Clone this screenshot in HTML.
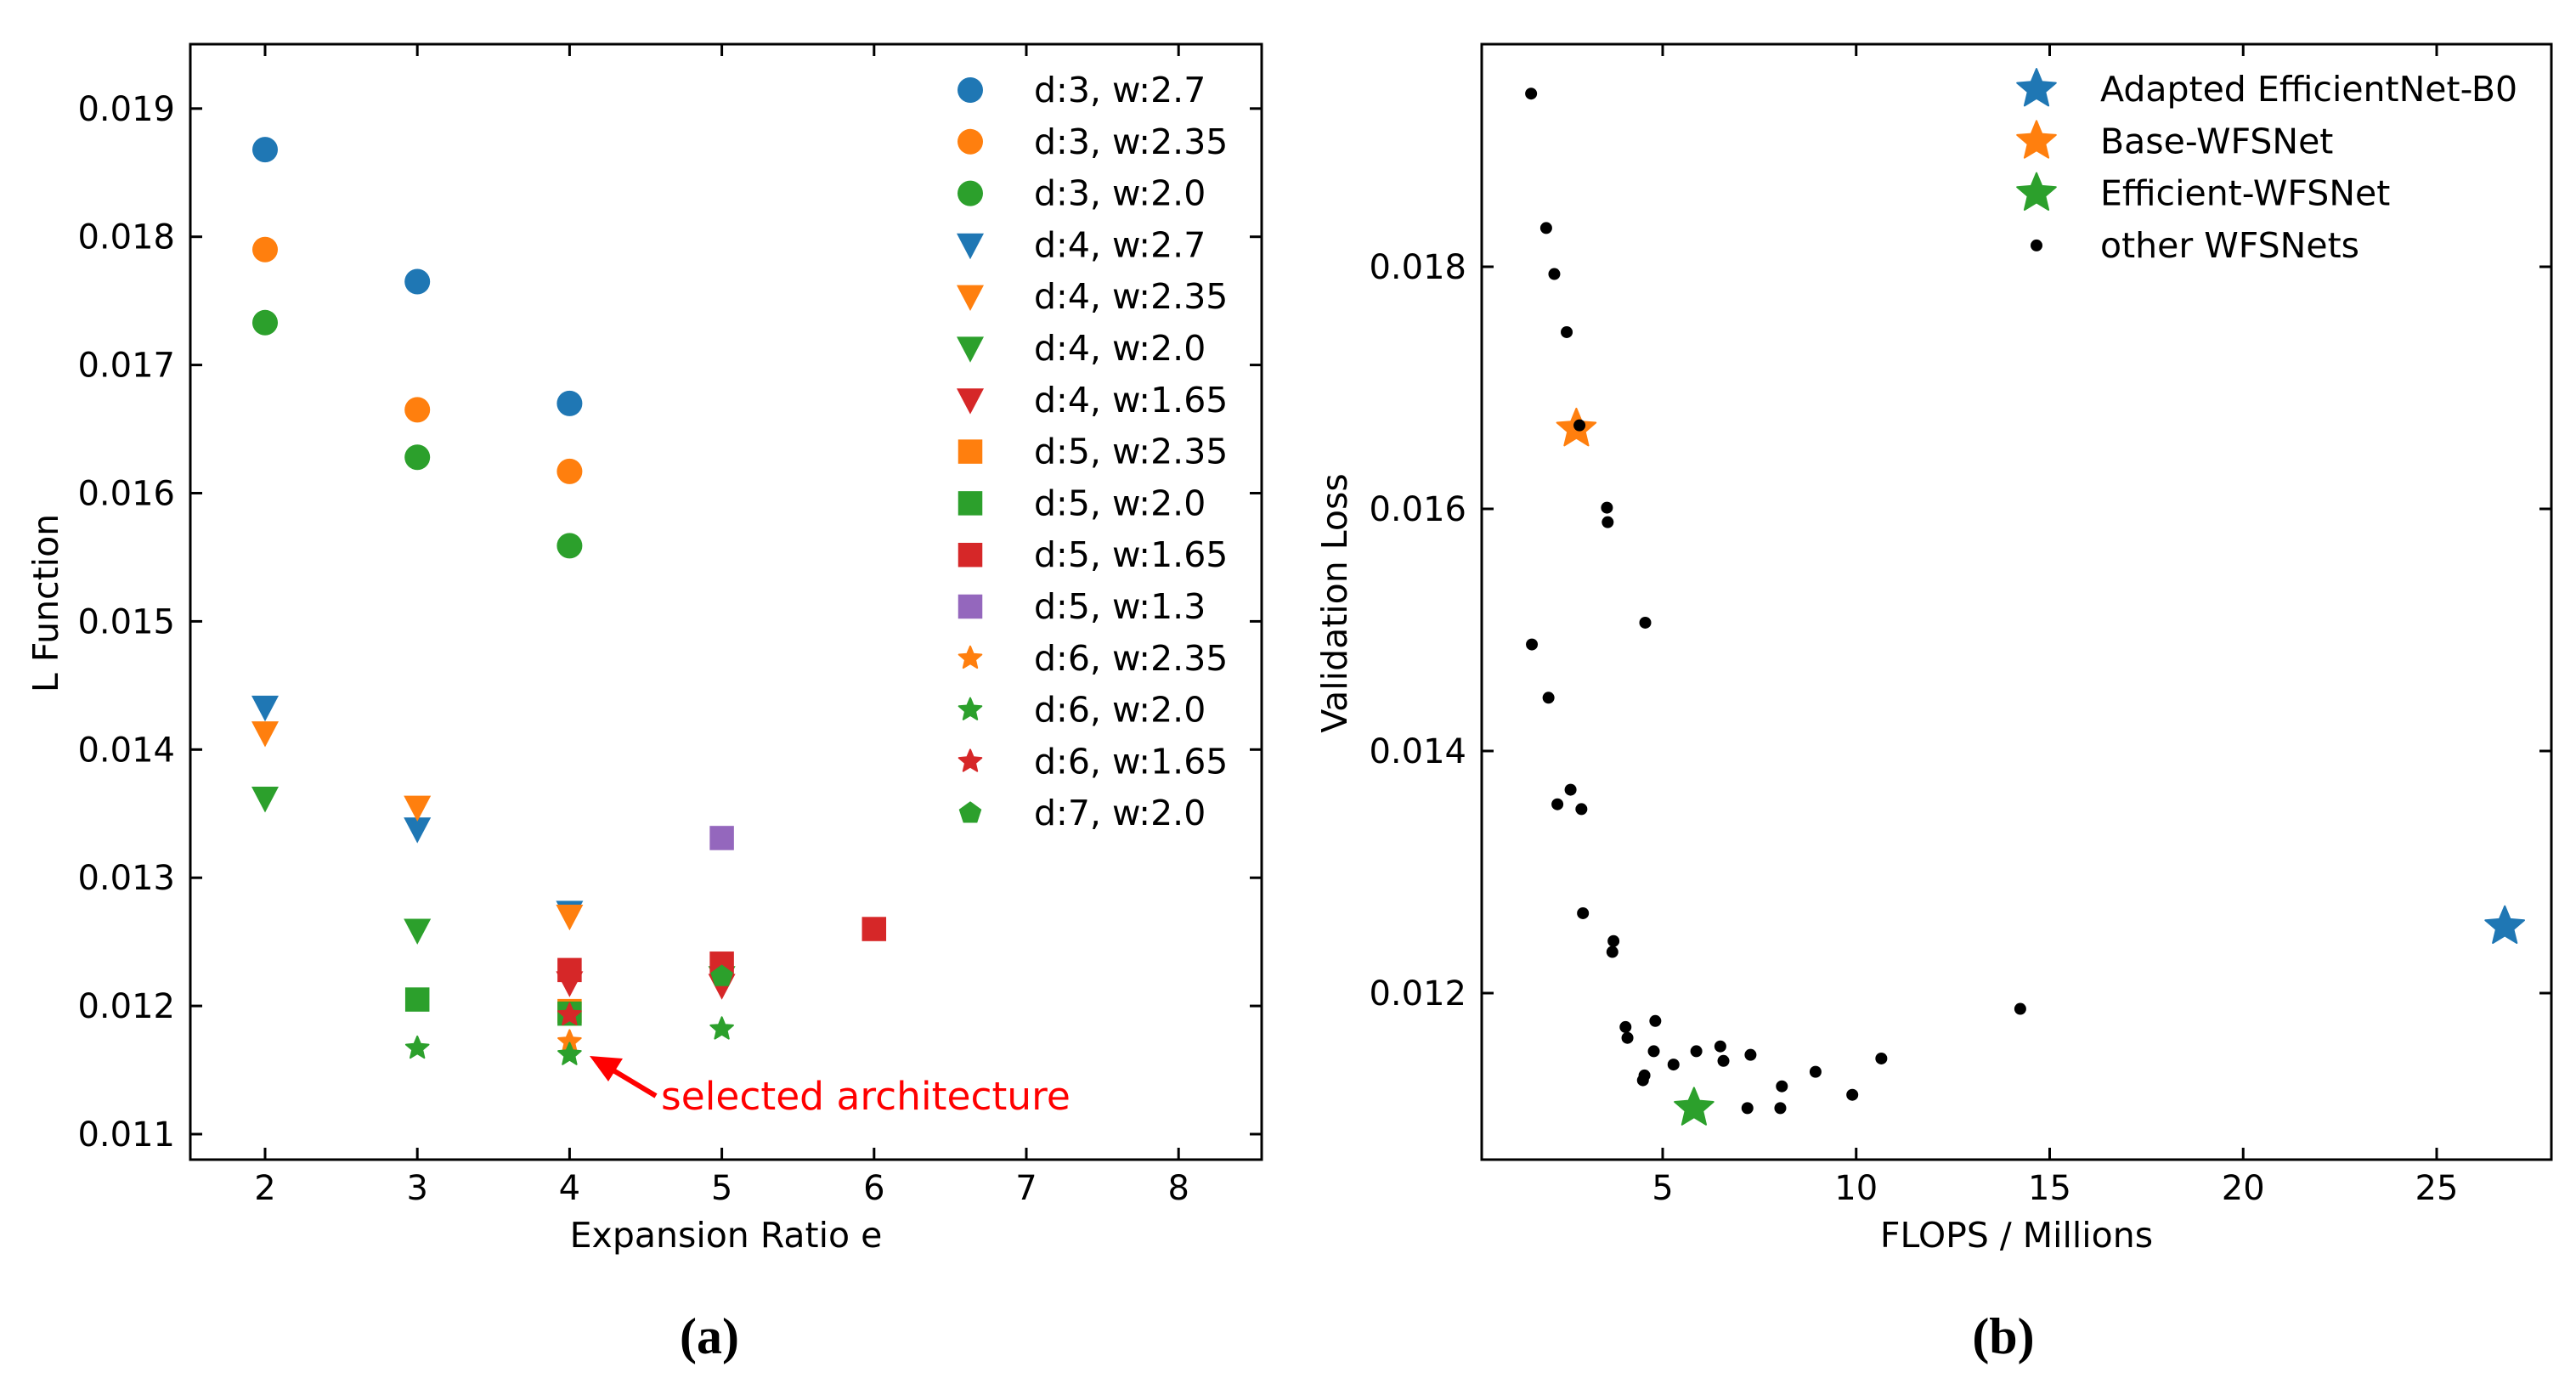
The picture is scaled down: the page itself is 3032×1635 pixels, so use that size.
<!DOCTYPE html>
<html><head><meta charset="utf-8"><style>
html,body{margin:0;padding:0;background:#fff;}
svg{display:block;font-family:"DejaVu Sans","Liberation Sans",sans-serif;}
</style></head><body>
<svg id="fig" xmlns="http://www.w3.org/2000/svg" width="3032" height="1635" viewBox="0 0 3032 1635">
<rect width="3032" height="1635" fill="#fff"/>
<g id="pa"></g>
<g id="pb"></g>
<text x="835" y="1593" font-family="Liberation Serif, serif" font-weight="bold" font-size="60" text-anchor="middle">(a)</text>
<text x="2358" y="1593" font-family="Liberation Serif, serif" font-weight="bold" font-size="60" text-anchor="middle">(b)</text>
</svg>
<script>
// ---- Panel (a) data ----
const aSeriesNames = ["d:3, w:2.7","d:3, w:2.35","d:3, w:2.0","d:4, w:2.7","d:4, w:2.35","d:4, w:2.0","d:4, w:1.65","d:5, w:2.35","d:5, w:2.0","d:5, w:1.65","d:5, w:1.3","d:6, w:2.35","d:6, w:2.0","d:6, w:1.65","d:7, w:2.0"];
const aColors = ["#1f77b4","#ff7f0e","#2ca02c","#1f77b4","#ff7f0e","#2ca02c","#d62728","#ff7f0e","#2ca02c","#d62728","#9467bd","#ff7f0e","#2ca02c","#d62728","#2ca02c"];
const aMarkers = ["o","o","o","v","v","v","v","s","s","s","s","*","*","*","p"];
const aX = [[2,3,4],[2,3,4],[2,3,4],[2,3,4],[2,3,4],[2,3,5],[4,5],[4],[3,4],[4,5,6],[5],[4],[3,4,5],[4],[5]];
const aY = [[0.01868,0.01765,0.0167],[0.0179,0.01665,0.01617],[0.01733,0.01628,0.01559],
 [0.01433,0.01338,0.01273],[0.01413,0.01355,0.0127],[0.01362,0.01259,0.01222],[0.01218,0.01216],
 [0.01196],[0.01205,0.01194],[0.01228,0.01233,0.0126],[0.01331],[0.01172],[0.01167,0.01162,0.01182],[0.01193],[0.01223]];
const aXTicks = [2,3,4,5,6,7,8];
const aYTicks = [0.011,0.012,0.013,0.014,0.015,0.016,0.017,0.018,0.019];
// ---- Panel (b) data ----
const bOtherX = [1.60,1.99,2.20,2.52,2.85,3.56,3.58,4.55,1.62,2.05,2.62,2.28,2.90,2.94,3.73,3.70,14.24,4.04,4.81,4.09,4.77,5.87,6.49,6.57,7.27,5.28,10.65,8.95,4.53,4.49,8.08,9.90,7.19,8.04];
const bOtherY = [0.01943,0.01832,0.01794,0.01746,0.01669,0.01601,0.01589,0.01506,0.01488,0.01444,0.01368,0.01356,0.01352,0.01266,0.01243,0.01234,0.01187,0.01172,0.01177,0.01163,0.01152,0.01152,0.01156,0.01144,0.01149,0.01141,0.01146,0.01135,0.01132,0.01128,0.01123,0.01116,0.01105,0.01105];
const bStarNames = ["Adapted EfficientNet-B0","Base-WFSNet","Efficient-WFSNet"];
const bStarX = [26.76,2.77,5.81];
const bStarY = [0.01255,0.01666,0.01105];
const bStarColors = ["#1f77b4","#ff7f0e","#2ca02c"];
const bXTicks = [5,10,15,20,25];
const bYTicks = [0.012,0.014,0.016,0.018];

const NS="http://www.w3.org/2000/svg";
function mk(parent,tag,attrs){const e=document.createElementNS(NS,tag);for(const k in attrs)e.setAttribute(k,attrs[k]);parent.appendChild(e);return e;}
function starPts(cx,cy,R){const r=R*0.45;let p=[];for(let i=0;i<10;i++){const a=-Math.PI/2+i*Math.PI/5;const rr=i%2?r:R;p.push((cx+rr*Math.cos(a)).toFixed(1)+","+(cy+rr*Math.sin(a)).toFixed(1));}return p.join(" ");}
function marker(g,type,cx,cy,color,s){
  let e;
  if(type==="o"){e=mk(g,"circle",{cx:cx,cy:cy,r:s,fill:color});}
  else if(type==="v"){e=mk(g,"polygon",{points:`${cx-s},${cy-s*0.85} ${cx+s},${cy-s*0.85} ${cx},${cy+s*1.05}`,fill:color});}
  else if(type==="s"){e=mk(g,"rect",{x:cx-s*0.95,y:cy-s*0.95,width:s*1.9,height:s*1.9,fill:color});}
  else if(type==="*"){e=mk(g,"polygon",{points:starPts(cx,cy,s),fill:color,"stroke":color,"stroke-width":2,"stroke-linejoin":"round"});}
  else if(type==="p"){let p=[];for(let i=0;i<5;i++){const a=-Math.PI/2+i*2*Math.PI/5;p.push((cx+s*Math.cos(a)).toFixed(1)+","+(cy+s*Math.sin(a)).toFixed(1));}e=mk(g,"polygon",{points:p.join(" "),fill:color});}
  else {e=mk(g,"circle",{cx:cx,cy:cy,r:s,fill:color});}
  return e;
}
function axes(g,L,R,T,B,xs,ys,xt,yt,fmtY,xlab,ylab,ylabX,ylabY){
  mk(g,"rect",{x:L,y:T,width:R-L,height:B-T,fill:"none",stroke:"#000","stroke-width":3});
  for(const v of xt){const x=xs(v);
    mk(g,"line",{x1:x,y1:B,x2:x,y2:B-14,stroke:"#000","stroke-width":3});
    mk(g,"line",{x1:x,y1:T,x2:x,y2:T+14,stroke:"#000","stroke-width":3});
    const t=mk(g,"text",{x:x,y:1412,"font-size":40,"text-anchor":"middle"});t.textContent=v;
    
    }
  for(const v of yt){const y=ys(v);
    mk(g,"line",{x1:L,y1:y,x2:L+14,y2:y,stroke:"#000","stroke-width":3});
    mk(g,"line",{x1:R,y1:y,x2:R-14,y2:y,stroke:"#000","stroke-width":3});
    const t=mk(g,"text",{x:L-18,y:y+14,"font-size":40,"text-anchor":"end"});t.textContent=fmtY(v);
    
    }
  const xl=mk(g,"text",{x:(L+R)/2,y:1468,"font-size":41,"text-anchor":"middle"});xl.textContent=xlab;
  
  
  const yl=mk(g,"text",{x:0,y:0,"font-size":41,"text-anchor":"middle",transform:`translate(${ylabX},${ylabY}) rotate(-90)`});yl.textContent=ylab;
  
  
}
// Panel a
(function(){
  const g=document.getElementById("pa");
  const L=224,R=1485,T=52,B=1365;
  const xs=v=>312+(v-2)*179.2;
  const ys=v=>1335-(v-0.011)*150900;
  axes(g,L,R,T,B,xs,ys,aXTicks,aYTicks,v=>v.toFixed(3),"Expansion Ratio e","L Function",68,710);
  const sizes={"o":15,"v":16,"s":15,"*":14,"p":14};
  aSeriesNames.forEach((n,i)=>{
    aX[i].forEach((xv,j)=>{const m=marker(g,aMarkers[i],xs(xv),ys(aY[i][j]),aColors[i],sizes[aMarkers[i]]);
      
      });
    const ly=106+i*60.8;
    const lm=marker(g,aMarkers[i],1142,ly,aColors[i],sizes[aMarkers[i]]);
    
    
    const t=mk(g,"text",{x:1217,y:ly+14,"font-size":41});t.textContent=n;
    
    
  });
  const ar=mk(g,"line",{x1:772,y1:1290,x2:712,y2:1254,stroke:"#ff0000","stroke-width":6});
  
  
  const ah=mk(g,"polygon",{points:"694,1243 733,1246 716,1273",fill:"#ff0000"});
  
  
  const at=mk(g,"text",{x:778,y:1306,"font-size":45.5,fill:"#ff0000"});at.textContent="selected architecture";
  
  
})();
// Panel b
(function(){
  const g=document.getElementById("pb");
  const L=1744,R=3003,T=52,B=1365;
  const xs=v=>1957+(v-5)*45.55;
  const ys=v=>314-(v-0.018)*142500;
  axes(g,L,R,T,B,xs,ys,bXTicks,bYTicks,v=>v.toFixed(3),"FLOPS / Millions","Validation Loss",1585,710);
  bStarX.forEach((xv,i)=>{const s=marker(g,"*",xs(xv),ys(bStarY[i]),bStarColors[i],24);
    
    });
  bOtherX.forEach((xv,i)=>{const c=mk(g,"circle",{cx:xs(xv),cy:ys(bOtherY[i]),r:7,fill:"#000"});
    
    });
  const names=bStarNames.concat(["other WFSNets"]);
  names.forEach((n,i)=>{const ly=105+i*61.3;
    let m;
    if(i<3){m=marker(g,"*",2397,ly,bStarColors[i],24);} else {m=mk(g,"circle",{cx:2397,cy:ly,r:7,fill:"#000"});}
    
    
    const t=mk(g,"text",{x:2472,y:ly+14,"font-size":41});t.textContent=n;
    
    });
})();
</script>
</body></html>
